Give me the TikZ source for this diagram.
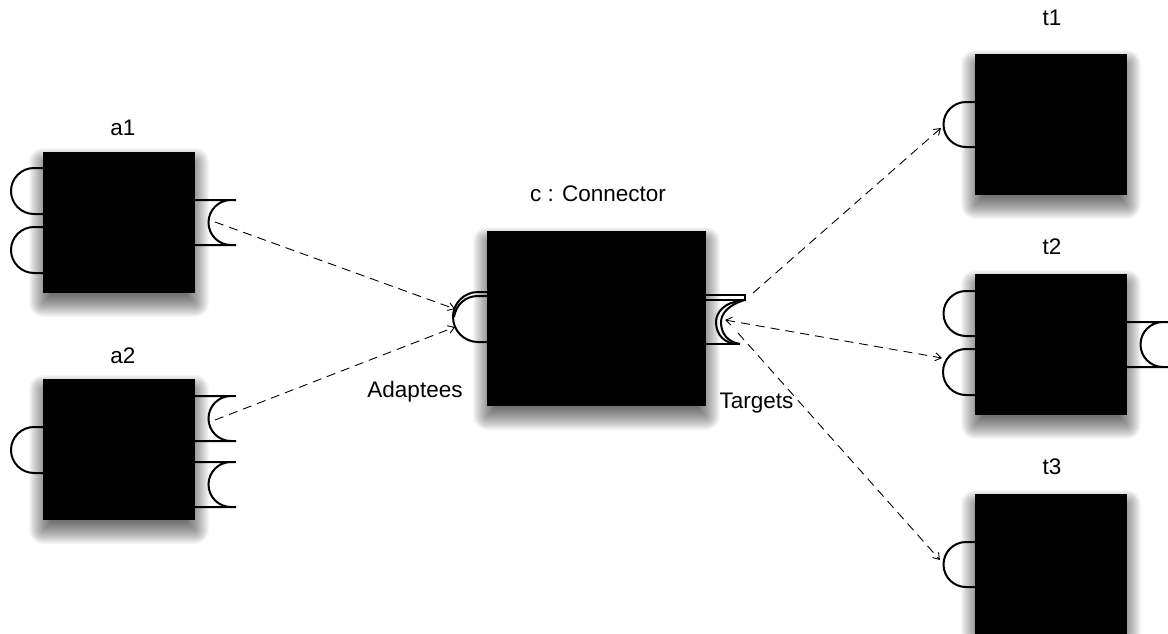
\documentclass[tikz,border=0pt]{standalone}
\usepackage{fontspec}
\setmainfont{Liberation Sans}
\usetikzlibrary{arrows.meta}
\tikzset{
  blk/.style={fill=black, draw=none, inner sep=0pt, outer sep=0pt, anchor=north west},
  port/.style={line width=2pt, line cap=butt},
  deparrow/.style={line width=0.9pt, dash pattern=on 9pt off 6pt},
  barbtip/.tip={Straight Barb[length=6pt,width=8pt,line width=0.9pt]},
  lbl/.style={font=\fontsize{22.5}{26}\selectfont, anchor=base, inner sep=0pt},
  shadowlayer/.style={fill=black, opacity=0.032},
}
\newcommand\softshadow[4]{\foreach \k in {-8,...,14}{%
  \pgfmathsetmacro\rc{max(\k,0)}%
  \fill[shadowlayer, rounded corners=\rc pt] ({#1-\k},{#2+10-\k}) rectangle ({#3+\k},{#4+10+\k});}}
% ball (provided interface) on the left side of a block: xedge, ytop, ybot, radius
\newcommand\ballport[4]{\draw[port] (#1,#2) -- ({#1-9},#2) arc[start angle=90,end angle=270,radius=#4pt] -- (#1,#3);}
% socket (required interface) on the right side: xedge, ytop, ybot, xend, xarc, radius
\newcommand\sockport[6]{\draw[port] (#1,#2) -- (#4,#2) (#1,#3) -- (#4,#3) (#5,#2) arc[start angle=90,end angle=270,radius=#6pt];}
\begin{document}
\begin{tikzpicture}[x=1pt,y=-1pt]
\useasboundingbox (0,0) rectangle (1168,633);
\fill[white] (0,0) rectangle (1168,633);

% shadows
\softshadow{43}{152}{195}{293}
\softshadow{43}{379}{195}{520}
\softshadow{487}{231}{706}{406}
\softshadow{975}{54}{1127}{195}
\softshadow{975}{274}{1127}{415}
\softshadow{975}{494}{1127}{635}

% blocks
\node[blk, minimum width=152pt, minimum height=141pt] (a1) at (43,152) {};
\node[blk, minimum width=152pt, minimum height=141pt] (a2) at (43,379) {};
\node[blk, minimum width=219pt, minimum height=175pt] (c) at (487,231) {};
\node[blk, minimum width=152pt, minimum height=141pt] (t1) at (975,54) {};
\node[blk, minimum width=152pt, minimum height=141pt] (t2) at (975,274) {};
\node[blk, minimum width=152pt, minimum height=141pt] (t3) at (975,494) {};

% ports of a1, a2
\ballport{43}{168}{214}{23}
\ballport{43}{227}{273}{23}
\sockport{195}{200}{245}{236}{231}{22.5}
\ballport{43}{427}{473}{23}
\sockport{195}{396}{441}{236}{231}{22.5}
\sockport{195}{462}{507}{236}{231}{22.5}
% ports of targets
\ballport{975}{102}{147}{22.5}
\ballport{975}{291}{336}{22.5}
\ballport{975}{349}{395}{23}
\sockport{1127}{322}{367}{1168}{1163}{22.5}
\ballport{975}{542}{587}{22.5}

% connector ports
\draw[port] (487,292) -- (478,292) arc[start angle=90,end angle=270,radius=25pt] -- (487,342);
\draw[port] (487,296) -- (478,296) .. controls (465,296) and (456,305) .. (454,317);
\draw[port] (706,295) -- (745,295) -- (745,300) -- (706,300);
\draw[port] (706,344) -- (740,344);
\draw[port] (741,301) .. controls (725,302) and (716,312) .. (716,322) .. controls (716,335) and (725,344) .. (738,344);
\draw[port] (745,300) .. controls (730,304) and (721,313) .. (721,322) .. controls (721,334) and (728,342) .. (740,344);

% connector end points
\coordinate (a1s) at (215,222);
\coordinate (a2s) at (215,420);
\coordinate (cl1) at (455,309);
\coordinate (cl2) at (455,327);
\coordinate (cr1) at (753,293);
\coordinate (cr2) at (725,320);
\coordinate (cr3) at (738,333);
\coordinate (t1b) at (941,128);
\coordinate (t2b) at (942,358);
\coordinate (t3b) at (940,560);

\draw[deparrow, -{barbtip}] (a1s) -- (cl1);
\draw[deparrow, -{barbtip}] (a2s) -- (cl2);
\draw[deparrow, -{barbtip}] (cr1) -- (t1b);
\draw[deparrow, {barbtip}-{barbtip}] (cr2) -- (t2b);
\draw[deparrow, -{barbtip}] (cr3) -- (t3b);

% labels
\node[lbl] (la1) at (123,135) {a1};
\node[lbl] (la2) at (123,363) {a2};
\node[lbl] (lc) at (598,201.5) {c : Connector};
\node[lbl] (lad) at (415,397) {Adaptees};
\node[lbl] (lta) at (756.5,408) {Targets};
\node[lbl] (lt1) at (1052,25) {t1};
\node[lbl] (lt2) at (1052,254) {t2};
\node[lbl] (lt3) at (1052,474) {t3};
\end{tikzpicture}
\end{document}
